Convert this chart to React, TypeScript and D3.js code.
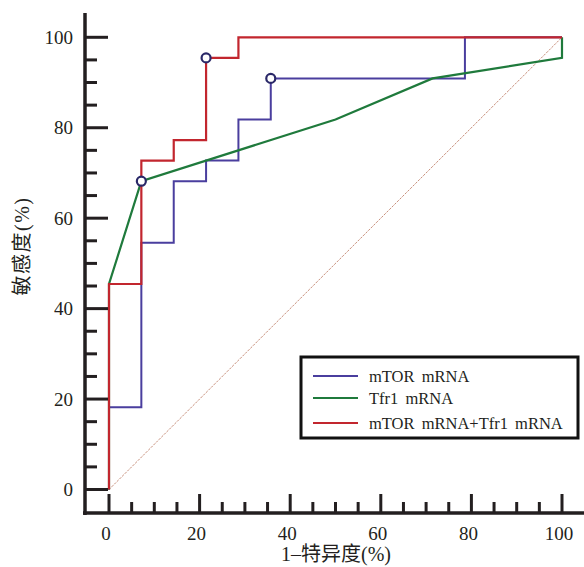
import { useRef, useEffect } from 'react'
import * as d3 from 'd3'

const W = 584
const H = 567

// ROC points, 1-specificity (%) and sensitivity (%)
const mtorFpr = [0, 0, 7.14, 14.29, 21.43, 28.57, 35.71, 78.57, 100]
const mtorTpr = [0, 18.18, 54.55, 68.18, 72.73, 81.82, 90.91, 100, 100]

const tfr1Fpr = [0, 0, 7.14, 50, 71.43, 100, 100]
const tfr1Tpr = [0, 45.45, 68.18, 81.82, 90.91, 95.45, 100]

const comboFpr = [0, 0, 7.14, 14.29, 21.43, 28.57, 100]
const comboTpr = [0, 45.45, 72.73, 77.27, 95.45, 100, 100]

// marked cut-off points
const cutFpr = [7.14, 21.43, 35.71]
const cutTpr = [68.18, 95.45, 90.91]

const seriesNames = ['mTOR mRNA', 'Tfr1 mRNA', 'mTOR mRNA+Tfr1 mRNA']
const seriesColors = ['#4a3e9e', '#1f7a3c', '#c2262e']

const majorTicks = [0, 20, 40, 60, 80, 100]
const minorTicks = d3.range(0, 101, 5).filter(v => v % 20 !== 0)

const AXIS = '#231f20'
const SERIF = "'Liberation Serif', 'DejaVu Serif', Times, serif"
const TITLE_FONT = "'Liberation Serif', 'Noto Sans CJK SC', serif"

export default function App() {
  const svgRef = useRef(null)

  useEffect(() => {
    const svg = d3.select(svgRef.current)
    svg.selectAll('*').remove()

    const x = d3.scaleLinear().domain([0, 100]).range([109, 562])
    const y = d3.scaleLinear().domain([0, 100]).range([489.5, 37.3])
    const axX = 85
    const axY = 513

    // diagonal reference
    svg.append('line')
      .attr('x1', x(0)).attr('y1', y(0)).attr('x2', x(100)).attr('y2', y(100))
      .attr('stroke', '#c8907c').attr('stroke-width', 1).attr('stroke-dasharray', '2.5,1.2')

    const zip = (xs, ys) => xs.map((v, i) => [v, ys[i]])
    const step = d3.line().x(d => x(d[0])).y(d => y(d[1])).curve(d3.curveStepAfter)
    const straight = d3.line().x(d => x(d[0])).y(d => y(d[1]))

    svg.append('path').datum(zip(mtorFpr, mtorTpr)).attr('d', step)
      .attr('fill', 'none').attr('stroke', seriesColors[0]).attr('stroke-width', 2)
    svg.append('path').datum(zip(tfr1Fpr, tfr1Tpr)).attr('d', straight)
      .attr('fill', 'none').attr('stroke', seriesColors[1]).attr('stroke-width', 2.2)
    svg.append('path').datum(zip(comboFpr, comboTpr)).attr('d', step)
      .attr('fill', 'none').attr('stroke', seriesColors[2]).attr('stroke-width', 2.2)

    svg.selectAll('circle.cut').data(zip(cutFpr, cutTpr)).join('circle')
      .attr('cx', d => x(d[0])).attr('cy', d => y(d[1])).attr('r', 4.5)
      .attr('fill', '#fff').attr('stroke', '#2a2868').attr('stroke-width', 2.2)

    // axes
    svg.append('line').attr('x1', axX).attr('x2', axX).attr('y1', 13).attr('y2', axY + 2)
      .attr('stroke', AXIS).attr('stroke-width', 3.5)
    svg.append('line').attr('x1', axX - 2).attr('x2', W).attr('y1', axY).attr('y2', axY)
      .attr('stroke', AXIS).attr('stroke-width', 3.5)

    const tickW = 3
    svg.selectAll('line.ymaj').data(majorTicks).join('line')
      .attr('x1', axX).attr('x2', 108).attr('y1', d => y(d)).attr('y2', d => y(d))
      .attr('stroke', AXIS).attr('stroke-width', tickW)
    svg.selectAll('line.ymin').data(minorTicks).join('line')
      .attr('x1', axX).attr('x2', 97).attr('y1', d => y(d)).attr('y2', d => y(d))
      .attr('stroke', AXIS).attr('stroke-width', tickW)
    svg.selectAll('line.xmaj').data(majorTicks).join('line')
      .attr('x1', d => x(d)).attr('x2', d => x(d)).attr('y1', axY).attr('y2', 494)
      .attr('stroke', AXIS).attr('stroke-width', tickW)
    svg.selectAll('line.xmin').data(minorTicks).join('line')
      .attr('x1', d => x(d)).attr('x2', d => x(d)).attr('y1', axY).attr('y2', 502)
      .attr('stroke', AXIS).attr('stroke-width', tickW)

    svg.selectAll('text.ylab').data(majorTicks).join('text')
      .attr('x', 73).attr('y', d => y(d)).attr('dy', '0.35em').attr('text-anchor', 'end')
      .style('font-family', SERIF).attr('font-size', 19).attr('fill', AXIS)
      .text(d => d)
    svg.selectAll('text.xlab').data(majorTicks).join('text')
      .attr('x', d => x(d) - 3).attr('y', 533).attr('dy', '0.35em').attr('text-anchor', 'middle')
      .style('font-family', SERIF).attr('font-size', 19).attr('fill', AXIS)
      .text(d => d)

    svg.append('text').attr('x', 336).attr('y', 554).attr('dy', '0.35em').attr('text-anchor', 'middle')
      .style('font-family', TITLE_FONT).attr('font-size', 20).attr('fill', AXIS)
      .text('1–特异度(%)')
    svg.append('text').attr('transform', 'translate(22,246) rotate(-90)')
      .attr('dy', '0.35em').attr('text-anchor', 'middle')
      .style('font-family', TITLE_FONT).attr('font-size', 20).attr('letter-spacing', 1.5).attr('fill', AXIS)
      .text('敏感度(%)')

    // legend
    const lg = svg.append('g')
    lg.append('rect').attr('x', 301).attr('y', 357).attr('width', 277).attr('height', 81)
      .attr('fill', '#fff').attr('stroke', '#111').attr('stroke-width', 3)
    const rowY = [376, 398, 423]
    seriesNames.forEach((name, i) => {
      lg.append('line').attr('x1', 313).attr('x2', 358).attr('y1', rowY[i]).attr('y2', rowY[i])
        .attr('stroke', seriesColors[i]).attr('stroke-width', 2)
      lg.append('text').attr('x', 369).attr('y', rowY[i]).attr('dy', '0.35em')
        .style('font-family', SERIF).attr('font-size', 16.5).attr('word-spacing', 3).attr('fill', AXIS)
        .text(name)
    })
  }, [])

  return (
    <svg ref={svgRef} width={W} height={H}
      style={{ position: 'absolute', left: 0, top: 0, background: '#fff' }} />
  )
}
